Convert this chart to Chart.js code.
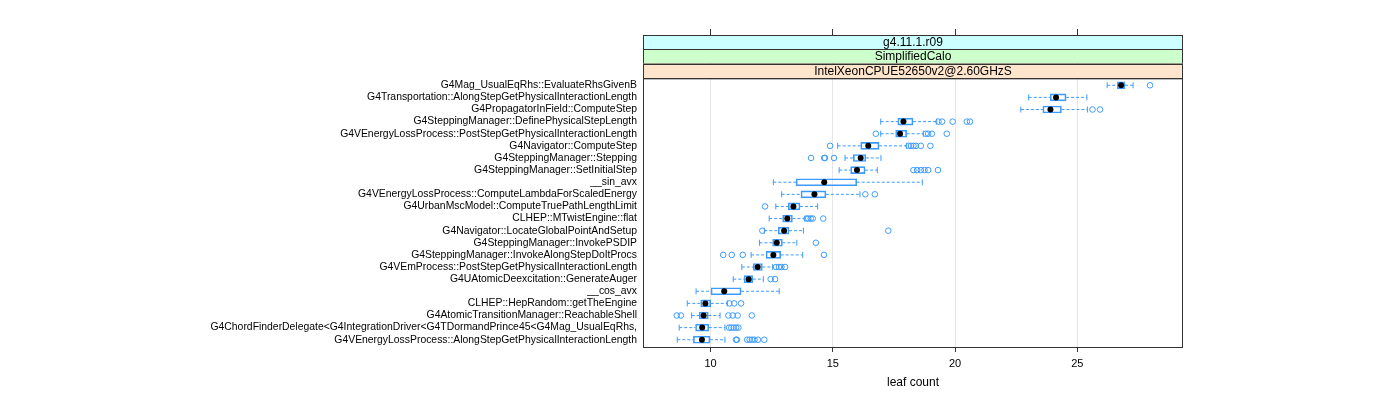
<!DOCTYPE html>
<html>
<head>
<meta charset="utf-8">
<script src="https://cdn.jsdelivr.net/npm/chart.js@4/dist/chart.umd.min.js"></script>
<style>
  html, body { margin: 0; padding: 0; background: #fff; }
  #wrap { width: 1400px; height: 400px; }
</style>
</head>
<body>
<div id="wrap"><canvas id="chart-area" width="1400" height="400"></canvas></div>
<script>
var categories = [
  'G4Mag_UsualEqRhs::EvaluateRhsGivenB',
  'G4Transportation::AlongStepGetPhysicalInteractionLength',
  'G4PropagatorInField::ComputeStep',
  'G4SteppingManager::DefinePhysicalStepLength',
  'G4VEnergyLossProcess::PostStepGetPhysicalInteractionLength',
  'G4Navigator::ComputeStep',
  'G4SteppingManager::Stepping',
  'G4SteppingManager::SetInitialStep',
  '__sin_avx',
  'G4VEnergyLossProcess::ComputeLambdaForScaledEnergy',
  'G4UrbanMscModel::ComputeTruePathLengthLimit',
  'CLHEP::MTwistEngine::flat',
  'G4Navigator::LocateGlobalPointAndSetup',
  'G4SteppingManager::InvokePSDIP',
  'G4SteppingManager::InvokeAlongStepDoItProcs',
  'G4VEmProcess::PostStepGetPhysicalInteractionLength',
  'G4UAtomicDeexcitation::GenerateAuger',
  '__cos_avx',
  'CLHEP::HepRandom::getTheEngine',
  'G4AtomicTransitionManager::ReachableShell',
  'G4ChordFinderDelegate<G4IntegrationDriver<G4TDormandPrince45<G4Mag_UsualEqRhs,',
  'G4VEnergyLossProcess::AlongStepGetPhysicalInteractionLength'
];
var whiskerLow  = [26.22, 23.01, 22.69, 16.96, 16.96, 15.2, 15.5, 15.26, 12.57, 12.91, 12.67, 12.4, 12.2, 12.0, 11.66, 11.28, 10.93, 9.41, 9.05, 9.23, 8.72, 8.64];
var q1          = [26.63, 23.89, 23.59, 17.66, 17.57, 16.14, 15.84, 15.73, 13.5, 13.7, 13.18, 12.95, 12.77, 12.54, 12.27, 11.75, 11.37, 10.02, 9.6, 9.54, 9.39, 9.3];
var medians     = [26.79, 24.13, 23.9, 17.89, 17.75, 16.45, 16.14, 15.99, 14.65, 14.25, 13.39, 13.14, 13.01, 12.71, 12.57, 11.93, 11.56, 10.56, 9.79, 9.72, 9.66, 9.65];
var q3          = [26.95, 24.54, 24.35, 18.28, 18.02, 16.89, 16.35, 16.32, 15.98, 14.72, 13.66, 13.35, 13.21, 12.94, 12.87, 12.12, 11.73, 11.25, 10.01, 9.91, 9.93, 9.98];
var whiskerHigh = [27.28, 25.39, 25.41, 19.25, 18.7, 18.02, 16.97, 16.82, 18.66, 16.11, 14.38, 13.86, 13.8, 13.53, 13.77, 12.54, 12.16, 12.81, 10.69, 10.39, 10.59, 10.59];
var outliers = [
  [27.97],
  [],
  [25.62, 25.93],
  [19.32, 19.47, 19.9, 20.48, 20.61],
  [16.76, 18.8, 18.9, 19.05, 19.66],
  [14.89, 18.1, 18.2, 18.3, 18.4, 18.6, 18.99],
  [14.11, 14.65, 14.68, 15.05],
  [18.3, 18.45, 18.6, 18.75, 18.9, 19.3],
  [],
  [16.33, 16.72],
  [12.23],
  [13.93, 14.0, 14.1, 14.18, 14.61],
  [12.12, 17.27],
  [14.31],
  [10.52, 10.87, 11.32, 14.64],
  [12.68, 12.8, 12.9, 13.05],
  [12.46, 12.64],
  [],
  [10.77, 10.97, 11.25],
  [8.62, 8.79, 10.73, 10.91, 11.11, 11.69],
  [10.76, 10.85, 10.95, 11.05, 11.14],
  [11.04, 11.08, 11.5, 11.6, 11.7, 11.8, 11.94, 12.2]
];
var xTicks = [10, 15, 20, 25];
var stripLabels = ['g4.11.1.r09', 'SimplifiedCalo', 'IntelXeonCPUE52650v2@2.60GHzS'];
var stripColors = ['#ccffff', '#ccffcc', '#ffe5cc'];

var blue = '#3d9bff';

// build datasets from the arrays
var boxData = [], whiskerData = [], capData = [], medianData = [], outlierData = [];
for (var i = 0; i < categories.length; i++) {
  var row = i + 1;
  boxData.push({x: [q1[i], q3[i]], y: row});
  whiskerData.push({x: whiskerLow[i], y: row}, {x: q1[i], y: row}, {x: null, y: null});
  whiskerData.push({x: q3[i], y: row}, {x: whiskerHigh[i], y: row}, {x: null, y: null});
  capData.push({x: whiskerLow[i], y: row}, {x: whiskerHigh[i], y: row});
  medianData.push({x: medians[i], y: row});
  for (var j = 0; j < outliers[i].length; j++) {
    outlierData.push({x: outliers[i][j], y: row});
  }
}

var frame = {
  id: 'frame',
  afterDraw: function(chart) {
    var ctx = chart.ctx, a = chart.chartArea;
    ctx.save();
    // strips
    var h = 14.33, top = a.top - h * stripLabels.length;
    for (var k = 0; k < stripLabels.length; k++) {
      var y0 = top + k * h;
      ctx.fillStyle = stripColors[k];
      ctx.fillRect(a.left, y0, a.right - a.left, h);
      ctx.strokeStyle = '#333';
      ctx.lineWidth = 1;
      ctx.strokeRect(a.left + 0.5, Math.round(y0) + 0.5, a.right - a.left - 1, h);
      ctx.fillStyle = '#000';
      ctx.font = '12px "Liberation Sans", Arial, sans-serif';
      ctx.textAlign = 'center';
      ctx.textBaseline = 'middle';
      ctx.fillText(stripLabels[k], (a.left + a.right) / 2, y0 + h / 2 + 0.5);
    }
    // plot border
    ctx.strokeStyle = '#333';
    ctx.strokeRect(a.left + 0.5, a.top + 0.5, a.right - a.left - 1, a.bottom - a.top);
    ctx.restore();
  }
};

var config = {
  type: 'scatter',
  data: {
    datasets: [
      {
        type: 'bar',
        indexAxis: 'y',
        data: boxData,
        backgroundColor: 'rgba(0,0,0,0)',
        borderColor: blue,
        borderWidth: 1,
        borderSkipped: false,
        barThickness: 7,
        order: 2
      },
      {
        type: 'scatter',
        data: whiskerData,
        showLine: true,
        spanGaps: false,
        borderColor: blue,
        borderWidth: 1,
        borderDash: [3, 2],
        pointRadius: 0,
        order: 3
      },
      {
        type: 'scatter',
        data: capData,
        pointStyle: 'line',
        rotation: 90,
        pointRadius: 3,
        borderColor: blue,
        borderWidth: 1,
        order: 3
      },
      {
        type: 'scatter',
        data: outlierData,
        pointStyle: 'circle',
        pointRadius: 2.8,
        backgroundColor: 'rgba(0,0,0,0)',
        borderColor: blue,
        borderWidth: 1,
        order: 1
      },
      {
        type: 'scatter',
        data: medianData,
        pointStyle: 'circle',
        pointRadius: 3,
        backgroundColor: '#000',
        borderColor: '#000',
        borderWidth: 0,
        order: 0
      }
    ]
  },
  options: {
    responsive: false,
    animation: false,
    layout: {padding: {left: 0, right: 217, top: 29, bottom: 0}},
    plugins: {legend: {display: false}, tooltip: {enabled: false}},
    scales: {
      x: {
        type: 'linear',
        position: 'bottom',
        offset: false,
        min: 7.24,
        max: 29.32,
        afterBuildTicks: function(s) { s.ticks = xTicks.map(function(v) { return {value: v}; }); },
        afterFit: function(s) { s.height = 53; },
        grid: {color: '#e6e6e6', tickColor: '#333', tickLength: 5, drawTicks: true, offset: false},
        border: {display: false},
        ticks: {color: '#000', padding: 5, font: {family: 'Liberation Sans', size: 11}, maxRotation: 0},
        title: {display: true, text: 'leaf count', color: '#000', font: {family: 'Liberation Sans', size: 12}, padding: {top: 0, bottom: 10}}
      },
      x2: {
        type: 'linear',
        position: 'top',
        offset: false,
        min: 7.24,
        max: 29.32,
        afterBuildTicks: function(s) { s.ticks = xTicks.map(function(v) { return {value: v}; }); },
        afterFit: function(s) { s.height = 49; },
        grid: {drawOnChartArea: false, tickColor: '#333', tickLength: 49, offset: false},
        border: {display: false},
        ticks: {display: false}
      },
      y: {
        type: 'linear',
        position: 'left',
        offset: false,
        reverse: true,
        min: 0.4,
        max: categories.length + 0.6,
        afterBuildTicks: function(s) { s.ticks = categories.map(function(c, i) { return {value: i + 1}; }); },
        afterFit: function(s) { s.width = 643; },
        grid: {display: false, drawTicks: false},
        border: {display: false},
        ticks: {
          autoSkip: false,
          padding: 6,
          color: '#000',
          font: {family: 'Liberation Sans', size: 10.4},
          callback: function(v) { return categories[v - 1]; }
        }
      }
    }
  },
  plugins: [frame]
};

var ctx = document.getElementById('chart-area').getContext('2d');
var chart = new Chart(ctx, config);
</script>
</body>
</html>
